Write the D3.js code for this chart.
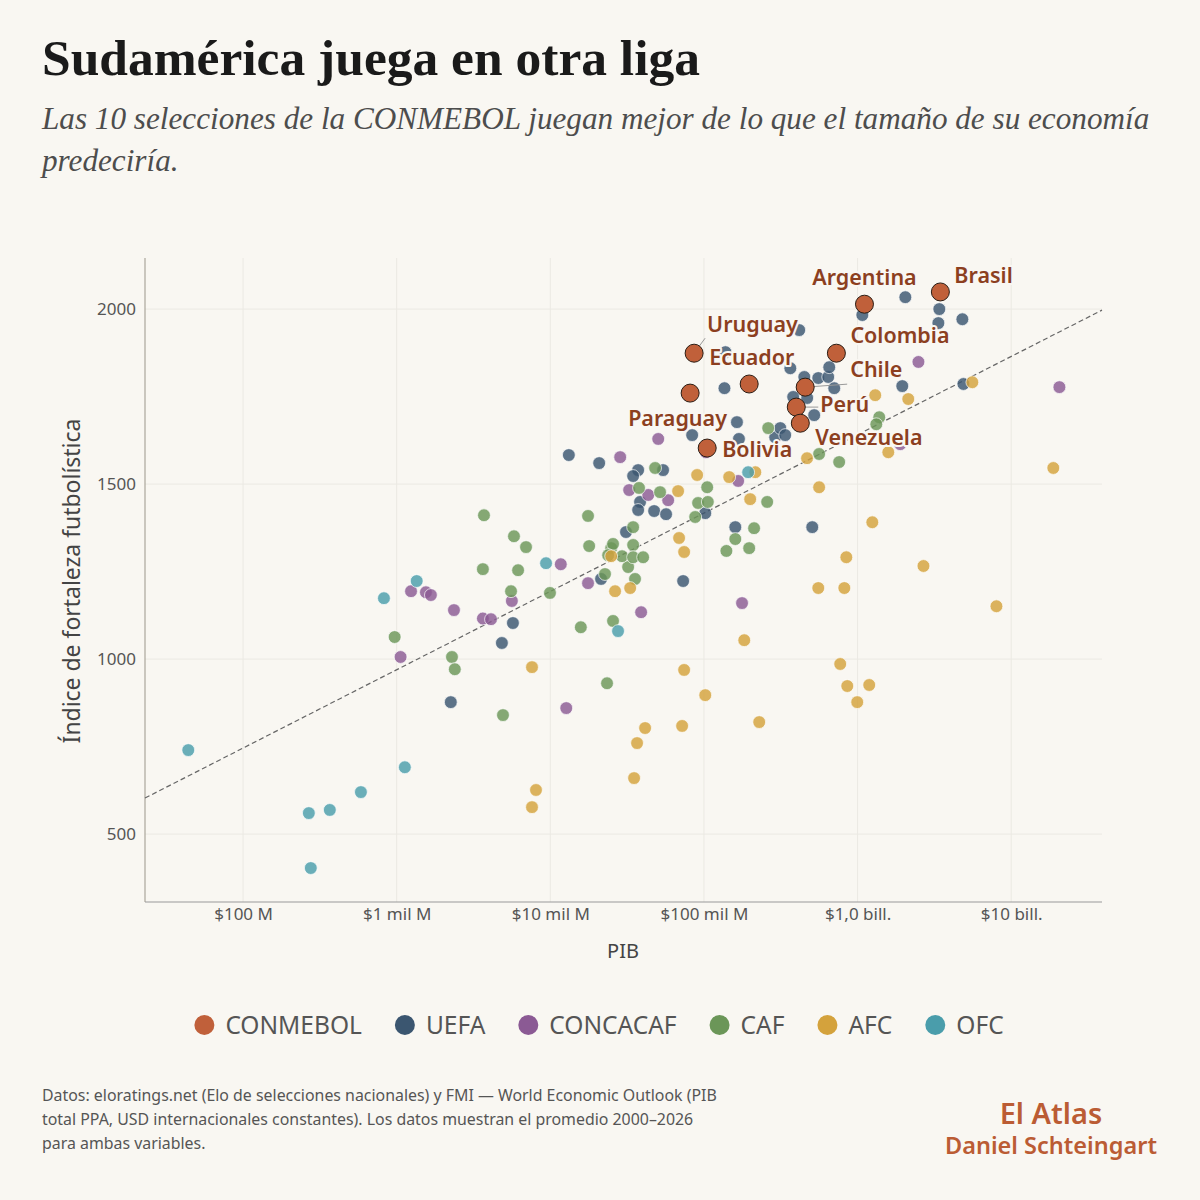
<!DOCTYPE html>
<html>
<head>
<meta charset="utf-8">
<script src="https://cdn.jsdelivr.net/npm/d3@7"></script>
<style>
  body { margin: 0; background: #f9f7f2; }
  svg { display: block; font-family: "Noto Sans", Lato, sans-serif; }
</style>
</head>
<body>
<script>
// PIB en mil millones USD (PPA), Elo promedio 2000-2026

const confeds = ['CONMEBOL', 'UEFA', 'CONCACAF', 'CAF', 'AFC', 'OFC'];
const confedColors = ['#c0603a', '#3b5670', '#8b5a94', '#6b9658', '#d4a23c', '#4a9dab'];

const conmebolNames = ['Argentina', 'Brasil', 'Colombia', 'Uruguay', 'Ecuador', 'Paraguay', 'Chile', 'Perú', 'Venezuela', 'Bolivia'];
const conmebolGdp = [1109, 3459, 728, 86.3, 197, 81.3, 456, 399, 424, 105];
const conmebolElo = [2014, 2049, 1874, 1874, 1786, 1760, 1777, 1720, 1674, 1603];

// [pib, elo]
const uefa = [[2.25, 877], [4.84, 1046], [5.71, 1103], [21.4, 1229], [73.2, 1223], [13.2, 1583], [20.8, 1560],
  [37.3, 1540], [34.6, 1523], [54.2, 1540], [38.4, 1449], [37.3, 1426], [47.4, 1423], [56.7, 1414], [31.1, 1363],
  [102, 1417], [160, 1377], [507, 1377], [83.8, 1640], [164, 1677], [169, 1629], [136, 1774], [291, 1634],
  [314, 1660], [338, 1640], [381, 1749], [470, 1746], [522, 1697], [450, 1806], [555, 1803], [644, 1806],
  [654, 1834], [705, 1774], [1074, 1983], [2046, 2034], [3405, 2000], [3357, 1960], [4810, 1971], [1954, 1780],
  [4886, 1786], [365, 1831], [417, 1940], [138, 1877]];

const concacaf = [[1.24, 1194], [1.55, 1191], [1.67, 1183], [2.36, 1140], [3.64, 1116], [4.11, 1114], [5.62, 1166],
  [11.7, 1271], [17.6, 1217], [1.06, 1006], [12.7, 860], [39.0, 1134], [177, 1160], [28.5, 1577], [50.4, 1629],
  [32.6, 1483], [43.4, 1469], [58.5, 1454], [167, 1509], [2490, 1849], [20600, 1777], [103, 1591], [1897, 1614]];

const caf = [[3.70, 1411], [5.80, 1351], [6.95, 1320], [17.6, 1409], [17.9, 1323], [3.64, 1257], [6.17, 1254],
  [24.9, 1317], [25.6, 1329], [23.8, 1297], [22.7, 1243], [5.55, 1194], [9.95, 1189], [15.8, 1091], [25.6, 1109],
  [0.97, 1063], [2.29, 1006], [2.39, 971], [4.92, 840], [23.4, 931], [32.1, 1263], [35.6, 1229], [48.1, 1546],
  [37.8, 1489], [51.8, 1477], [34.6, 1377], [34.6, 1326], [29.3, 1294], [34.6, 1291], [40.2, 1291], [105, 1491],
  [91.6, 1446], [106, 1449], [87.7, 1406], [140, 1309], [160, 1343], [197, 1317], [212, 1374], [258, 1449],
  [262, 1660], [562, 1586], [759, 1563], [1384, 1691], [1324, 1671]];

const afc = [[7.60, 977], [8.07, 626], [7.60, 577], [26.4, 1194], [33.1, 1203], [74.3, 969], [102, 897], [72.1, 809],
  [41.4, 803], [36.7, 760], [35.1, 660], [183, 1054], [229, 820], [555, 1203], [820, 1203], [845, 1291],
  [2685, 1266], [8015, 1151], [771, 986], [857, 923], [1191, 926], [995, 877], [90.3, 1526], [146, 1520],
  [67.9, 1480], [68.9, 1346], [74.3, 1306], [24.9, 1294], [200, 1457], [216, 1534], [562, 1491], [469, 1574],
  [1247, 1391], [18800, 1546], [1585, 1591], [2138, 1743], [1303, 1754], [5585, 1791]];

const ofc = [[0.044, 740], [0.268, 560], [0.367, 569], [0.585, 620], [0.276, 403], [1.13, 691], [0.826, 1174],
  [1.35, 1223], [9.38, 1274], [27.6, 1080], [194, 1534]];

// linea de tendencia (extremos)
const trendGdp = [0.023, 39000];
const trendElo = [603, 1997];

const xTicks = [0.1, 1, 10, 100, 1000, 10000];
const xTickLabels = ['$100 M', '$1 mil M', '$10 mil M', '$100 mil M', '$1,0 bill.', '$10 bill.'];
const yTicks = [500, 1000, 1500, 2000];

const sourceLines = [
  'Datos: eloratings.net (Elo de selecciones nacionales) y FMI — World Economic Outlook (PIB',
  'total PPA, USD internacionales constantes). Los datos muestran el promedio 2000–2026',
  'para ambas variables.'
];

// label placement (px from point): dx, dy, anchor, leader end
var labelPos = {
  'Argentina': [0, -19, 'middle'],
  'Brasil': [14, -9, 'start'],
  'Colombia': [14, -10, 'start'],
  'Uruguay': [13, -21, 'start', [11, -15]],
  'Ecuador': [-40, -19, 'start'],
  'Paraguay': [-62, 33, 'start'],
  'Chile': [45, -10, 'start', [42, -3]],
  'Perú': [24, 5, 'start', [22, 0]],
  'Venezuela': [15, 22, 'start'],
  'Bolivia': [15, 9, 'start']
};

var bg = '#f9f7f2';
var plot = { left: 145, right: 1102, top: 258, bottom: 902 };

var svg = d3.select('body').append('svg')
  .attr('width', 1200)
  .attr('height', 1200);

svg.append('rect').attr('width', 1200).attr('height', 1200).attr('fill', bg);

var x = d3.scaleLog().domain([0.023, 39000]).range([plot.left, plot.right]);
var y = d3.scaleLinear().domain([306, 2146]).range([plot.bottom, plot.top]);

function fitWidth(sel, target) {
  var w = sel.node().getComputedTextLength();
  var fs = parseFloat(sel.attr('font-size'));
  sel.attr('font-size', fs * target / w);
  return fs * target / w;
}

// title
var title = svg.append('text')
  .text('Sudamérica juega en otra liga')
  .attr('x', 42).attr('y', 75)
  .attr('font-family', '"Liberation Serif", serif')
  .attr('font-weight', 'bold')
  .attr('font-size', 48)
  .attr('fill', '#1a1a1a');
fitWidth(title, 658);

var sub1 = svg.append('text')
  .text('Las 10 selecciones de la CONMEBOL juegan mejor de lo que el tamaño de su economía')
  .attr('x', 42).attr('y', 129)
  .attr('font-family', '"Liberation Serif", serif')
  .attr('font-style', 'italic')
  .attr('font-size', 28)
  .attr('fill', '#4d4d4d');
var subSize = fitWidth(sub1, 1108);
svg.append('text')
  .text('predeciría.')
  .attr('x', 42).attr('y', 171)
  .attr('font-family', '"Liberation Serif", serif')
  .attr('font-style', 'italic')
  .attr('font-size', subSize)
  .attr('fill', '#4d4d4d');

// grid
var grid = svg.append('g').attr('id', 'grid');
grid.selectAll('.vgrid').data(xTicks).enter().append('line')
  .attr('x1', d => x(d)).attr('x2', d => x(d))
  .attr('y1', plot.top).attr('y2', plot.bottom)
  .attr('stroke', '#ebe9e3').attr('stroke-width', 1);
grid.selectAll('.hgrid').data(yTicks).enter().append('line')
  .attr('x1', plot.left).attr('x2', plot.right)
  .attr('y1', d => y(d)).attr('y2', d => y(d))
  .attr('stroke', '#ebe9e3').attr('stroke-width', 1);

// axes
var x_axis = d3.axisBottom(x)
  .tickValues(xTicks)
  .tickFormat((d, i) => xTickLabels[i])
  .tickSize(0).tickPadding(6);
var gx = svg.append('g')
  .attr('transform', 'translate(0,' + plot.bottom + ')')
  .call(x_axis);
gx.select('.domain').remove();
gx.selectAll('text').attr('font-size', 17).attr('fill', '#555').attr('font-family', '"Noto Sans", sans-serif');

var y_axis = d3.axisLeft(y)
  .tickValues(yTicks)
  .tickFormat(d3.format('d'))
  .tickSize(0).tickPadding(9);
var gy = svg.append('g')
  .attr('transform', 'translate(' + plot.left + ',0)')
  .call(y_axis);
gy.select('.domain').remove();
gy.selectAll('text').attr('font-size', 17).attr('fill', '#555').attr('font-family', '"Noto Sans", sans-serif');

svg.append('line')
  .attr('x1', plot.left).attr('x2', plot.left)
  .attr('y1', plot.top).attr('y2', plot.bottom)
  .attr('stroke', '#aaa69b').attr('stroke-width', 1.2);
svg.append('line')
  .attr('x1', plot.left).attr('x2', plot.right)
  .attr('y1', plot.bottom).attr('y2', plot.bottom)
  .attr('stroke', '#999').attr('stroke-width', 1.2);

svg.append('text')
  .text('PIB')
  .attr('x', 623).attr('y', 958)
  .attr('text-anchor', 'middle')
  .attr('font-size', 20).attr('fill', '#444');

var ytitle = svg.append('text')
  .text('Índice de fortaleza futbolística')
  .attr('transform', 'translate(80,581) rotate(-90)')
  .attr('text-anchor', 'middle')
  .attr('font-size', 22).attr('fill', '#444');
fitWidth(ytitle, 325);

// trend line
svg.append('line')
  .attr('x1', x(trendGdp[0])).attr('y1', y(trendElo[0]))
  .attr('x2', x(trendGdp[1])).attr('y2', y(trendElo[1]))
  .attr('stroke', '#666').attr('stroke-width', 1.2)
  .attr('stroke-dasharray', '5,3');

// points
var groups = [uefa, concacaf, caf, afc, ofc];
var pts = svg.append('g').attr('id', 'points');
groups.forEach((g, gi) => {
  pts.append('g')
    .selectAll('circle')
    .data(g)
    .enter()
    .append('circle')
    .attr('cx', d => x(d[0]))
    .attr('cy', d => y(d[1]))
    .attr('r', 6.4)
    .attr('fill', confedColors[gi + 1])
    .attr('fill-opacity', 0.82)
    .attr('stroke', '#fff')
    .attr('stroke-opacity', 0.85)
    .attr('stroke-width', 0.8);
});

// conmebol
var sa = conmebolNames.map((n, i) => ({ name: n, gdp: conmebolGdp[i], elo: conmebolElo[i] }));

svg.append('g').selectAll('line')
  .data(sa.filter(d => labelPos[d.name][3]))
  .enter().append('line')
  .attr('x1', d => x(d.gdp))
  .attr('y1', d => y(d.elo))
  .attr('x2', d => x(d.gdp) + labelPos[d.name][3][0])
  .attr('y2', d => y(d.elo) + labelPos[d.name][3][1])
  .attr('stroke', '#999').attr('stroke-width', 1);

svg.append('g').selectAll('text')
  .data(sa)
  .enter().append('text')
  .text(d => d.name)
  .attr('x', d => x(d.gdp) + labelPos[d.name][0])
  .attr('y', d => y(d.elo) + labelPos[d.name][1])
  .attr('text-anchor', d => labelPos[d.name][2])
  .attr('font-size', 21.5)
  .attr('font-weight', 600)
  .attr('fill', '#8c3f1f')
  .attr('stroke', bg).attr('stroke-width', 4)
  .attr('stroke-linejoin', 'round')
  .attr('paint-order', 'stroke');

svg.append('g').selectAll('circle')
  .data(sa)
  .enter().append('circle')
  .attr('cx', d => x(d.gdp))
  .attr('cy', d => y(d.elo))
  .attr('r', 9)
  .attr('fill', confedColors[0])
  .attr('stroke', '#2b1d14')
  .attr('stroke-width', 1);

// legend
var legend = svg.append('g').attr('id', 'legend');
var lx = 0;
confeds.forEach((c, i) => {
  var item = legend.append('g').attr('transform', 'translate(' + lx + ',0)');
  item.append('circle').attr('cx', 10).attr('cy', 0).attr('r', 10).attr('fill', confedColors[i]);
  var t = item.append('text').text(c)
    .attr('x', 31).attr('y', 0).attr('dy', '0.35em')
    .attr('font-size', 24.5).attr('fill', '#555');
  lx += 31 + t.node().getComputedTextLength() + 33;
});
lx -= 33;
legend.attr('transform', 'translate(' + (599 - lx / 2) + ',1025)');

// source
svg.append('g').selectAll('text')
  .data(sourceLines)
  .enter().append('text')
  .text(d => d)
  .attr('x', 42)
  .attr('y', (d, i) => 1101 + i * 24)
  .attr('font-size', 15.9)
  .attr('fill', '#555');

var sig1 = svg.append('text')
  .text('El Atlas')
  .attr('x', 1051).attr('y', 1124)
  .attr('text-anchor', 'middle')
  .attr('font-size', 29).attr('font-weight', 600)
  .attr('fill', '#bb5c34');
var sig2 = svg.append('text')
  .text('Daniel Schteingart')
  .attr('x', 1051).attr('y', 1154)
  .attr('text-anchor', 'middle')
  .attr('font-size', 22).attr('font-weight', 600)
  .attr('fill', '#bb5c34');
fitWidth(sig2, 212);
</script>
</body>
</html>
